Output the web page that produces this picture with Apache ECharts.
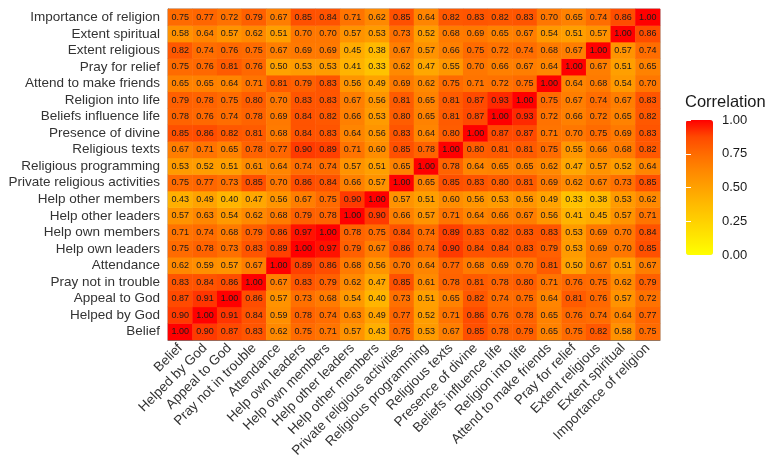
<!DOCTYPE html>
<html>
<head>
<meta charset="utf-8">
<script src="https://cdn.jsdelivr.net/npm/echarts@6/dist/echarts.min.js"></script>
<style>
  html, body { margin: 0; padding: 0; background: #fff; }
  #chart { width: 773px; height: 472px; }
</style>
</head>
<body>
<div id="chart"></div>
<script>
// variables, bottom row / left column first
const vars = [
  "Belief", "Helped by God", "Appeal to God", "Pray not in trouble", "Attendance",
  "Help own leaders", "Help own members", "Help other leaders", "Help other members",
  "Private religious activities", "Religious programming", "Religious texts",
  "Presence of divine", "Beliefs influence life", "Religion into life",
  "Attend to make friends", "Pray for relief", "Extent religious", "Extent spiritual",
  "Importance of religion"
];

// correlation rows, same order as vars
const corr = [
  [1.00,0.90,0.87,0.83,0.62,0.75,0.71,0.57,0.43,0.75,0.53,0.67,0.85,0.78,0.79,0.65,0.75,0.82,0.58,0.75],
  [0.90,1.00,0.91,0.84,0.59,0.78,0.74,0.63,0.49,0.77,0.52,0.71,0.86,0.76,0.78,0.65,0.76,0.74,0.64,0.77],
  [0.87,0.91,1.00,0.86,0.57,0.73,0.68,0.54,0.40,0.73,0.51,0.65,0.82,0.74,0.75,0.64,0.81,0.76,0.57,0.72],
  [0.83,0.84,0.86,1.00,0.67,0.83,0.79,0.62,0.47,0.85,0.61,0.78,0.81,0.78,0.80,0.71,0.76,0.75,0.62,0.79],
  [0.62,0.59,0.57,0.67,1.00,0.89,0.86,0.68,0.56,0.70,0.64,0.77,0.68,0.69,0.70,0.81,0.50,0.67,0.51,0.67],
  [0.75,0.78,0.73,0.83,0.89,1.00,0.97,0.79,0.67,0.86,0.74,0.90,0.84,0.84,0.83,0.79,0.53,0.69,0.70,0.85],
  [0.71,0.74,0.68,0.79,0.86,0.97,1.00,0.78,0.75,0.84,0.74,0.89,0.83,0.82,0.83,0.83,0.53,0.69,0.70,0.84],
  [0.57,0.63,0.54,0.62,0.68,0.79,0.78,1.00,0.90,0.66,0.57,0.71,0.64,0.66,0.67,0.56,0.41,0.45,0.57,0.71],
  [0.43,0.49,0.40,0.47,0.56,0.67,0.75,0.90,1.00,0.57,0.51,0.60,0.56,0.53,0.56,0.49,0.33,0.38,0.53,0.62],
  [0.75,0.77,0.73,0.85,0.70,0.86,0.84,0.66,0.57,1.00,0.65,0.85,0.83,0.80,0.81,0.69,0.62,0.67,0.73,0.85],
  [0.53,0.52,0.51,0.61,0.64,0.74,0.74,0.57,0.51,0.65,1.00,0.78,0.64,0.65,0.65,0.62,0.47,0.57,0.52,0.64],
  [0.67,0.71,0.65,0.78,0.77,0.90,0.89,0.71,0.60,0.85,0.78,1.00,0.80,0.81,0.81,0.75,0.55,0.66,0.68,0.82],
  [0.85,0.86,0.82,0.81,0.68,0.84,0.83,0.64,0.56,0.83,0.64,0.80,1.00,0.87,0.87,0.71,0.70,0.75,0.69,0.83],
  [0.78,0.76,0.74,0.78,0.69,0.84,0.82,0.66,0.53,0.80,0.65,0.81,0.87,1.00,0.93,0.72,0.66,0.72,0.65,0.82],
  [0.79,0.78,0.75,0.80,0.70,0.83,0.83,0.67,0.56,0.81,0.65,0.81,0.87,0.93,1.00,0.75,0.67,0.74,0.67,0.83],
  [0.65,0.65,0.64,0.71,0.81,0.79,0.83,0.56,0.49,0.69,0.62,0.75,0.71,0.72,0.75,1.00,0.64,0.68,0.54,0.70],
  [0.75,0.76,0.81,0.76,0.50,0.53,0.53,0.41,0.33,0.62,0.47,0.55,0.70,0.66,0.67,0.64,1.00,0.67,0.51,0.65],
  [0.82,0.74,0.76,0.75,0.67,0.69,0.69,0.45,0.38,0.67,0.57,0.66,0.75,0.72,0.74,0.68,0.67,1.00,0.57,0.74],
  [0.58,0.64,0.57,0.62,0.51,0.70,0.70,0.57,0.53,0.73,0.52,0.68,0.69,0.65,0.67,0.54,0.51,0.57,1.00,0.86],
  [0.75,0.77,0.72,0.79,0.67,0.85,0.84,0.71,0.62,0.85,0.64,0.82,0.83,0.82,0.83,0.70,0.65,0.74,0.86,1.00]
];

// legend breaks
const legendTicks = [0, 0.25, 0.5, 0.75, 1];

// yellow -> red, stepped in Lab like ggplot does
const ramp = ["#FFFF00", "#FFE800", "#FFD100", "#FFBA00", "#FFA100", "#FF8800", "#FF6B00", "#FF4900", "#FF0000"];

const FONT = "'Liberation Sans', Arial, sans-serif";

const cells = [];
corr.forEach((row, y) => {
  row.forEach((v, x) => cells.push([x, y, v]));
});

const chart = echarts.init(document.getElementById("chart"));

chart.setOption({
  animation: false,
  textStyle: { fontFamily: FONT },
  title: {
    text: "Correlation",
    left: 685,
    top: 94,
    padding: 0,
    textStyle: { fontFamily: FONT, fontSize: 16.5, fontWeight: "normal", color: "#1a1a1a" }
  },
  grid: [
    { left: 168, top: 9, width: 492, height: 331, show: true, borderColor: "#8a8a8a", borderWidth: 1, backgroundColor: "transparent" },
    { left: 686, top: 120, width: 27, height: 135 }
  ],
  xAxis: [
    {
      type: "category",
      gridIndex: 0,
      data: vars,
      axisLine: { show: true, lineStyle: { color: "#7a7a7a" } },
      axisTick: { alignWithLabel: true, length: 5, lineStyle: { color: "#444" } },
      // top padding pushes the rotated text down-right, like hjust/vjust = 1
      axisLabel: { rotate: 45, interval: 0, fontSize: 13.5, color: "#333", margin: 6, padding: [11, 0, 0, 0], fontFamily: FONT },
      splitLine: { show: false }
    },
    { type: "value", gridIndex: 1, show: false, min: 0, max: 1 }
  ],
  yAxis: [
    {
      type: "category",
      gridIndex: 0,
      data: vars,
      axisLine: { show: true, lineStyle: { color: "#7a7a7a" } },
      axisTick: { alignWithLabel: true, length: 5, lineStyle: { color: "#444" } },
      axisLabel: { interval: 0, fontSize: 13.5, color: "#333", margin: 8, fontFamily: FONT },
      splitLine: { show: false }
    },
    {
      type: "value",
      gridIndex: 1,
      position: "right",
      min: 0,
      max: 1,
      interval: 0.25,
      z: 10,
      axisLine: { show: false },
      axisTick: { show: true, inside: true, length: 5, lineStyle: { color: "#fff", width: 1 } },
      axisLabel: { fontSize: 13, color: "#1a1a1a", margin: 9, fontFamily: FONT, formatter: v => legendTicks.includes(v) ? v.toFixed(2) : "" },
      splitLine: { show: false }
    },
    {
      type: "value",
      gridIndex: 1,
      position: "left",
      min: 0,
      max: 1,
      interval: 0.25,
      z: 10,
      axisLine: { show: false },
      axisTick: { show: true, inside: true, length: 5, lineStyle: { color: "#fff", width: 1 } },
      axisLabel: { show: false },
      splitLine: { show: false }
    }
  ],
  visualMap: {
    type: "continuous",
    seriesIndex: 0,
    min: 0,
    max: 1,
    calculable: false,
    orient: "vertical",
    left: 686,
    top: 120,
    itemWidth: 27,
    itemHeight: 135,
    padding: 0,
    inRange: { color: ramp }
  },
  series: [
    {
      type: "heatmap",
      xAxisIndex: 0,
      yAxisIndex: 0,
      data: cells,
      label: {
        show: true,
        fontSize: 9,
        color: "#1a1a1a",
        fontFamily: FONT,
        formatter: p => p.value[2].toFixed(2)
      },
      emphasis: { disabled: true },
      itemStyle: { borderWidth: 0 }
    }
  ]
});
</script>
</body>
</html>
